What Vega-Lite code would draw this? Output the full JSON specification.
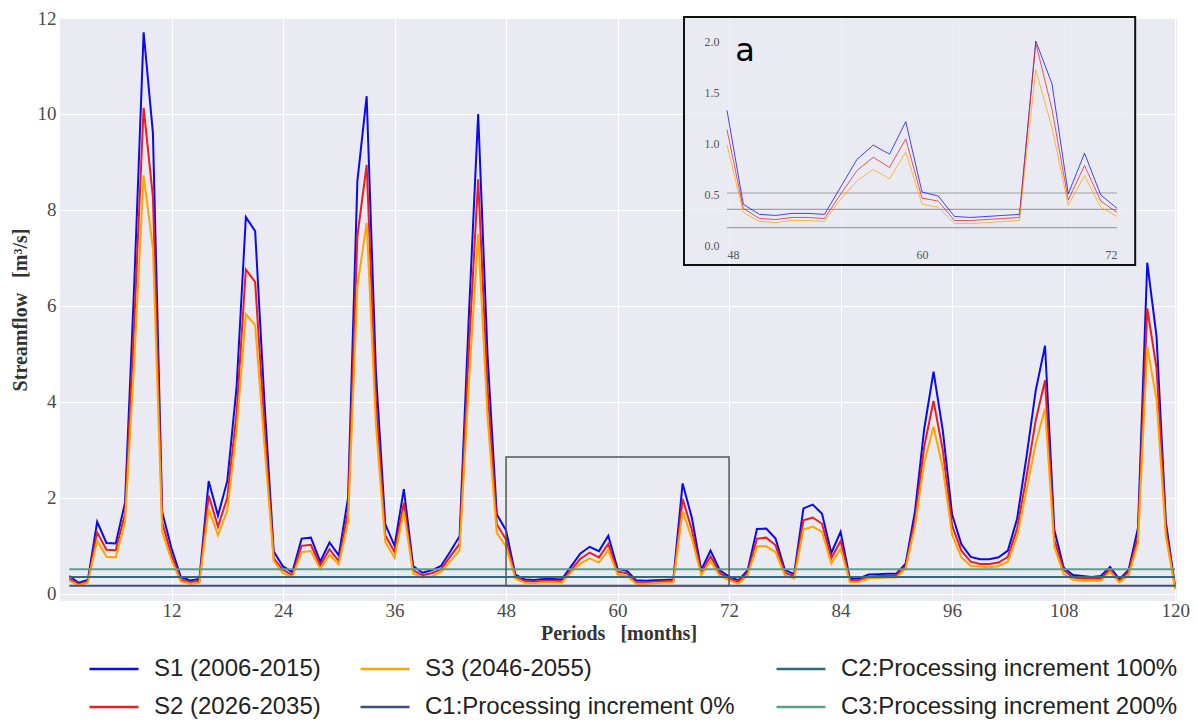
{
"$schema": "https://vega.github.io/schema/vega-lite/v6.json",
"autosize": {"type": "none"},
"width": 1117, "height": 583,
"padding": {"left": 60, "top": 18, "right": 21, "bottom": 120},
"background": "white",
"config": {"view": {"fill": "#eaeaf2", "stroke": null}, "font": "Liberation Serif"},
"datasets": {
"flow": [
{"month":1,"S1":0.37,"S2":0.31,"S3":0.27},{"month":2,"S1":0.23,"S2":0.2,"S3":0.18},{"month":3,"S1":0.29,"S2":0.26,"S3":0.23},{"month":4,"S1":1.5,"S2":1.28,"S3":1.11},{"month":5,"S1":1.06,"S2":0.92,"S3":0.77},{"month":6,"S1":1.05,"S2":0.91,"S3":0.76},{"month":7,"S1":1.9,"S2":1.67,"S3":1.5},{"month":8,"S1":6.5,"S2":5.7,"S3":4.9},{"month":9,"S1":11.7,"S2":10.13,"S3":8.72},{"month":10,"S1":9.6,"S2":8.27,"S3":7.2},
{"month":11,"S1":1.7,"S2":1.49,"S3":1.29},{"month":12,"S1":0.95,"S2":0.8,"S3":0.7},{"month":13,"S1":0.35,"S2":0.3,"S3":0.26},{"month":14,"S1":0.28,"S2":0.24,"S3":0.21},{"month":15,"S1":0.31,"S2":0.27,"S3":0.23},{"month":16,"S1":2.35,"S2":2.05,"S3":1.77},{"month":17,"S1":1.63,"S2":1.4,"S3":1.22},{"month":18,"S1":2.35,"S2":2.0,"S3":1.73},{"month":19,"S1":4.3,"S2":3.75,"S3":3.4},{"month":20,"S1":7.85,"S2":6.76,"S3":5.83},
{"month":21,"S1":7.56,"S2":6.5,"S3":5.6},{"month":22,"S1":4.0,"S2":3.5,"S3":3.1},{"month":23,"S1":0.88,"S2":0.74,"S3":0.68},{"month":24,"S1":0.57,"S2":0.5,"S3":0.43},{"month":25,"S1":0.45,"S2":0.39,"S3":0.35},{"month":26,"S1":1.15,"S2":1.0,"S3":0.87},{"month":27,"S1":1.17,"S2":1.02,"S3":0.89},{"month":28,"S1":0.67,"S2":0.59,"S3":0.52},{"month":29,"S1":1.07,"S2":0.93,"S3":0.81},{"month":30,"S1":0.8,"S2":0.68,"S3":0.61},
{"month":31,"S1":2.0,"S2":1.71,"S3":1.5},{"month":32,"S1":8.6,"S2":7.45,"S3":6.4},{"month":33,"S1":10.37,"S2":8.94,"S3":7.73},{"month":34,"S1":4.6,"S2":4.0,"S3":3.5},{"month":35,"S1":1.45,"S2":1.22,"S3":1.08},{"month":36,"S1":1.0,"S2":0.87,"S3":0.75},{"month":37,"S1":2.18,"S2":1.9,"S3":1.72},{"month":38,"S1":0.58,"S2":0.49,"S3":0.42},{"month":39,"S1":0.44,"S2":0.39,"S3":0.34},{"month":40,"S1":0.49,"S2":0.43,"S3":0.36},
{"month":41,"S1":0.58,"S2":0.51,"S3":0.45},{"month":42,"S1":0.88,"S2":0.78,"S3":0.68},{"month":43,"S1":1.2,"S2":1.04,"S3":0.9},{"month":44,"S1":5.8,"S2":5.1,"S3":4.4},{"month":45,"S1":10.0,"S2":8.64,"S3":7.5},{"month":46,"S1":5.0,"S2":4.3,"S3":3.7},{"month":47,"S1":1.66,"S2":1.45,"S3":1.27},{"month":48,"S1":1.32,"S2":1.13,"S3":0.98},{"month":49,"S1":0.4,"S2":0.36,"S3":0.32},{"month":50,"S1":0.3,"S2":0.26,"S3":0.23},
{"month":51,"S1":0.29,"S2":0.25,"S3":0.22},{"month":52,"S1":0.31,"S2":0.27,"S3":0.24},{"month":53,"S1":0.31,"S2":0.27,"S3":0.24},{"month":54,"S1":0.3,"S2":0.26,"S3":0.23},{"month":55,"S1":0.57,"S2":0.5,"S3":0.45},{"month":56,"S1":0.84,"S2":0.73,"S3":0.63},{"month":57,"S1":0.98,"S2":0.86,"S3":0.74},{"month":58,"S1":0.89,"S2":0.76,"S3":0.65},{"month":59,"S1":1.21,"S2":1.04,"S3":0.91},{"month":60,"S1":0.52,"S2":0.46,"S3":0.4},
{"month":61,"S1":0.48,"S2":0.43,"S3":0.37},{"month":62,"S1":0.28,"S2":0.24,"S3":0.21},{"month":63,"S1":0.27,"S2":0.24,"S3":0.21},{"month":64,"S1":0.28,"S2":0.25,"S3":0.22},{"month":65,"S1":0.29,"S2":0.26,"S3":0.23},{"month":66,"S1":0.3,"S2":0.27,"S3":0.24},{"month":67,"S1":2.3,"S2":1.98,"S3":1.72},{"month":68,"S1":1.58,"S2":1.33,"S3":1.15},{"month":69,"S1":0.5,"S2":0.44,"S3":0.39},{"month":70,"S1":0.9,"S2":0.78,"S3":0.68},
{"month":71,"S1":0.49,"S2":0.43,"S3":0.37},{"month":72,"S1":0.36,"S2":0.32,"S3":0.28},{"month":73,"S1":0.28,"S2":0.25,"S3":0.21},{"month":74,"S1":0.49,"S2":0.44,"S3":0.39},{"month":75,"S1":1.35,"S2":1.15,"S3":0.99},{"month":76,"S1":1.36,"S2":1.17,"S3":0.99},{"month":77,"S1":1.15,"S2":1.01,"S3":0.87},{"month":78,"S1":0.5,"S2":0.44,"S3":0.39},{"month":79,"S1":0.41,"S2":0.37,"S3":0.32},{"month":80,"S1":1.78,"S2":1.53,"S3":1.34},
{"month":81,"S1":1.86,"S2":1.59,"S3":1.4},{"month":82,"S1":1.67,"S2":1.46,"S3":1.29},{"month":83,"S1":0.85,"S2":0.74,"S3":0.63},{"month":84,"S1":1.29,"S2":1.1,"S3":0.94},{"month":85,"S1":0.31,"S2":0.27,"S3":0.24},{"month":86,"S1":0.32,"S2":0.28,"S3":0.25},{"month":87,"S1":0.4,"S2":0.35,"S3":0.32},{"month":88,"S1":0.41,"S2":0.37,"S3":0.33},{"month":89,"S1":0.42,"S2":0.37,"S3":0.34},{"month":90,"S1":0.42,"S2":0.38,"S3":0.34},
{"month":91,"S1":0.63,"S2":0.58,"S3":0.53},{"month":92,"S1":1.71,"S2":1.53,"S3":1.4},{"month":93,"S1":3.44,"S2":3.07,"S3":2.74},{"month":94,"S1":4.63,"S2":4.02,"S3":3.48},{"month":95,"S1":3.4,"S2":2.99,"S3":2.62},{"month":96,"S1":1.65,"S2":1.42,"S3":1.23},{"month":97,"S1":1.03,"S2":0.9,"S3":0.76},{"month":98,"S1":0.77,"S2":0.67,"S3":0.58},{"month":99,"S1":0.72,"S2":0.62,"S3":0.57},{"month":100,"S1":0.72,"S2":0.62,"S3":0.55},
{"month":101,"S1":0.76,"S2":0.65,"S3":0.58},{"month":102,"S1":0.9,"S2":0.77,"S3":0.67},{"month":103,"S1":1.57,"S2":1.36,"S3":1.2},{"month":104,"S1":2.85,"S2":2.44,"S3":2.16},{"month":105,"S1":4.24,"S2":3.62,"S3":3.13},{"month":106,"S1":5.17,"S2":4.45,"S3":3.86},{"month":107,"S1":1.33,"S2":1.12,"S3":0.98},{"month":108,"S1":0.55,"S2":0.5,"S3":0.41},{"month":109,"S1":0.39,"S2":0.34,"S3":0.29},{"month":110,"S1":0.37,"S2":0.32,"S3":0.27},
{"month":111,"S1":0.35,"S2":0.32,"S3":0.27},{"month":112,"S1":0.37,"S2":0.32,"S3":0.27},{"month":113,"S1":0.56,"S2":0.5,"S3":0.46},{"month":114,"S1":0.3,"S2":0.27,"S3":0.24},{"month":115,"S1":0.5,"S2":0.46,"S3":0.39},{"month":116,"S1":1.37,"S2":1.19,"S3":1.05},{"month":117,"S1":6.9,"S2":5.95,"S3":5.15},{"month":118,"S1":5.36,"S2":4.7,"S3":4.04},{"month":119,"S1":1.5,"S2":1.35,"S3":1.2},{"month":120,"S1":0.14,"S2":0.12,"S3":0.1}
],
"thr": [{"name":"C1","value":0.17},{"name":"C2","value":0.35},{"name":"C3","value":0.51}]
},
"layer": [
{
"layer": [
{
"data": {"name": "flow"},
"transform": [{"fold": ["S1","S2"], "as": ["series","value"]}],
"mark": {"type": "line", "strokeWidth": 2},
"encoding": {
"x": {"field": "month", "type": "quantitative",
"scale": {"domain": [0, 120.2], "nice": false, "zero": false},
"axis": {"values": [12,24,36,48,60,72,84,96,108,120], "grid": true, "gridColor": "white", "gridWidth": 1, "domain": false, "ticks": false, "labelPadding": 0, "labelFont": "Liberation Serif", "labelFontSize": 19, "labelColor": "#4a4a4a", "title": "Periods\u00a0\u00a0\u00a0[months]", "titleFont": "Liberation Serif", "titleFontSize": 20, "titleFontWeight": "bold", "titleColor": "#333", "titlePadding": 3}},
"y": {"field": "value", "type": "quantitative",
"scale": {"domain": [-0.15, 12], "nice": false, "zero": false},
"axis": {"values": [0,2,4,6,8,10,12], "grid": true, "gridColor": "white", "gridWidth": 1, "domain": false, "ticks": false, "labelPadding": 4, "labelFont": "Liberation Serif", "labelFontSize": 19, "labelColor": "#4a4a4a", "title": "Streamflow\u00a0\u00a0\u00a0[m³/s]", "titleFont": "Liberation Serif", "titleFontSize": 20, "titleFontWeight": "bold", "titleColor": "#333", "titlePadding": 7}},
"color": {"field": "series", "type": "nominal",
"scale": {"domain": ["S1","S2"], "range": ["#0a0af0","#ee1c1c"]},
"legend": {"orient": "none", "legendX": 28, "legendY": 625, "direction": "vertical", "title": null, "padding": 0, "labelFont": "Liberation Sans", "labelFontSize": 24, "labelColor": "#222", "labelLimit": 500, "symbolType": "stroke", "symbolSize": 2401, "symbolStrokeWidth": 2.5, "labelOffset": 14, "rowPadding": -12, "labelExpr": "datum.label == 'S1' ? 'S1 (2006-2015)' : 'S2 (2026-2035)'"}}
}
},
{
"layer": [
{
"data": {"name": "flow"},
"transform": [{"fold": ["S3"], "as": ["series","value"]}],
"mark": {"type": "line", "strokeWidth": 2},
"encoding": {
"x": {"field": "month", "type": "quantitative"},
"y": {"field": "value", "type": "quantitative"},
"color": {"field": "series", "type": "nominal",
"scale": {"domain": ["S3","C1"], "range": ["#ffa500","#3d4f7d"]},
"legend": {"orient": "none", "legendX": 299, "legendY": 625, "direction": "vertical", "title": null, "padding": 0, "labelFont": "Liberation Sans", "labelFontSize": 24, "labelColor": "#222", "labelLimit": 500, "symbolType": "stroke", "symbolSize": 2401, "symbolStrokeWidth": 2.5, "labelOffset": 14, "rowPadding": -12, "labelExpr": "datum.label == 'S3' ? 'S3 (2046-2055)' : 'C1:Processing increment 0%'"}}
}
},
{
"data": {"name": "thr"},
"transform": [{"filter": "datum.name == 'C1'"}],
"mark": {"type": "rule", "strokeWidth": 2},
"encoding": {
"x": {"datum": 1, "type": "quantitative"},
"x2": {"datum": 120},
"y": {"field": "value", "type": "quantitative"},
"color": {"field": "name", "type": "nominal"}
}
}
]
},
{
"data": {"name": "thr"},
"transform": [{"filter": "datum.name != 'C1'"}],
"mark": {"type": "rule", "strokeWidth": 2},
"encoding": {
"x": {"datum": 1, "type": "quantitative"},
"x2": {"datum": 120},
"y": {"field": "value", "type": "quantitative"},
"color": {"field": "name", "type": "nominal",
"scale": {"domain": ["C2","C3"], "range": ["#2f6b7f","#5b9e8c"]},
"legend": {"orient": "none", "legendX": 715, "legendY": 625, "direction": "vertical", "title": null, "padding": 0, "labelFont": "Liberation Sans", "labelFontSize": 24, "labelColor": "#222", "labelLimit": 500, "symbolType": "stroke", "symbolSize": 2401, "symbolStrokeWidth": 2.5, "labelOffset": 14, "rowPadding": -12, "labelExpr": "datum.label == 'C2' ? 'C2:Processing increment 100%' : 'C3:Processing increment 200%'"}}
}
},
{
"data": {"values": [{}]},
"mark": {"type": "rect", "fill": null, "stroke": "#555", "strokeWidth": 1.5},
"encoding": {
"x": {"datum": 48, "type": "quantitative"},
"x2": {"datum": 72},
"y": {"datum": 0.17, "type": "quantitative"},
"y2": {"datum": 2.85}
}
},
{
"data": {"values": [{}]},
"mark": {"type": "rect", "fill": "#eaeaf2", "fillOpacity": 0.8, "stroke": "#111", "strokeWidth": 2},
"encoding": {
"x": {"datum": 67.15, "type": "quantitative"},
"x2": {"datum": 115.7},
"y": {"datum": 6.85, "type": "quantitative"},
"y2": {"datum": 12.02}
}
}
],
"resolve": {"scale": {"color": "independent"}, "legend": {"color": "independent"}}
},
{
"layer": [
{
"data": {"name": "thr"},
"mark": {"type": "rule", "strokeWidth": 1.2, "color": "#98a2aa"},
"encoding": {
"x": {"datum": 48, "type": "quantitative",
"scale": {"domain": [48, 72], "range": [667, 1057], "nice": false, "zero": false},
"axis": {"orient": "bottom", "offset": -354, "zindex": 2, "values": [48,60,72], "grid": false, "domain": false, "ticks": false, "labelPadding": 2, "labelFont": "Liberation Serif", "labelFontSize": 12, "labelColor": "#555", "title": null}},
"x2": {"datum": 72},
"y": {"field": "value", "type": "quantitative",
"scale": {"domain": [0, 2], "range": [227, 23], "nice": false, "zero": false, "clamp": true},
"axis": {"orient": "left", "offset": -663, "zindex": 2, "values": [0,0.5,1,1.5,2], "format": ".1f", "grid": false, "domain": false, "ticks": false, "labelPadding": 4, "labelFont": "Liberation Serif", "labelFontSize": 12, "labelColor": "#555", "title": null}}
}
},
{
"data": {"name": "flow"},
"transform": [{"filter": "datum.month >= 48 && datum.month <= 72"}, {"fold": ["S1","S2","S3"], "as": ["series","value"]}],
"mark": {"type": "line", "strokeWidth": 1, "opacity": 0.75},
"encoding": {
"x": {"field": "month", "type": "quantitative"},
"y": {"field": "value", "type": "quantitative"},
"color": {"field": "series", "type": "nominal", "scale": {"domain": ["S1","S2","S3"], "range": ["#0a0af0","#ee1c1c","#ffa500"]}, "legend": null}
}
},
{
"data": {"values": [{}]},
"mark": {"type": "text", "text": "a", "font": "DejaVu Sans", "fontSize": 32, "align": "left", "baseline": "middle", "color": "#000"},
"encoding": {
"x": {"datum": 48.5, "type": "quantitative"},
"y": {"datum": 1.9, "type": "quantitative"}
}
}
]
}
],
"resolve": {"scale": {"x": "independent", "y": "independent", "color": "independent"}, "axis": {"x": "independent", "y": "independent"}, "legend": {"color": "independent"}}
}
